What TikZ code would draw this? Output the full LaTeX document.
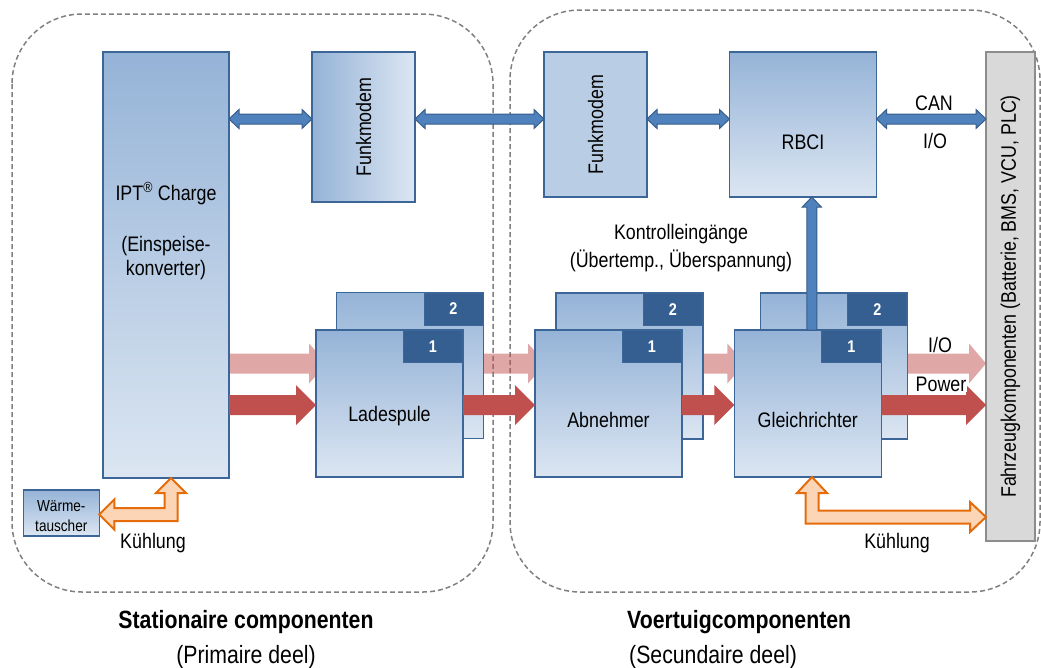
\documentclass[tikz,border=0pt]{standalone}
\usepackage{fontspec}
\setmainfont{Liberation Sans}[FakeStretch=0.85]
\usetikzlibrary{calc}

\definecolor{boxtop}{HTML}{95B3D7}
\definecolor{boxbot}{HTML}{DCE6F2}
\definecolor{boxline}{HTML}{3C6698}
\definecolor{tabblue}{HTML}{365F91}
\definecolor{fmflat}{HTML}{B9CDE5}
\definecolor{busfill}{HTML}{4F81BD}
\definecolor{busline}{HTML}{385D8A}
\definecolor{powred}{HTML}{C0504D}
\definecolor{coolfill}{HTML}{FBD5B5}
\definecolor{coolline}{HTML}{E46C0A}
\definecolor{fzkfill}{HTML}{D9D9D9}
\definecolor{fzkline}{HTML}{8C8C8C}
\definecolor{dashgray}{HTML}{808080}

\pgfdeclarelayer{frame}
\pgfdeclarelayer{under}
\pgfsetlayers{frame,under,main}

% horizontal block arrow with two heads: #2 left tip, #3 right tip (height of #2)
% #4 half shaft, #5 half head, #6 head length
\newcommand\hdoublearrow[6]{%
  \path[#1] let \p1=(#2), \p2=(#3) in
    (\x1,\y1) -- ({\x1+#6},{\y1+#5}) -- ({\x1+#6},{\y1+#4})
    -- ({\x2-#6},{\y1+#4}) -- ({\x2-#6},{\y1+#5}) -- (\x2,\y1)
    -- ({\x2-#6},{\y1-#5}) -- ({\x2-#6},{\y1-#4})
    -- ({\x1+#6},{\y1-#4}) -- ({\x1+#6},{\y1-#5}) -- cycle;}

% horizontal block arrow pointing right: #2 tail, #3 tip (height of #2)
\newcommand\hsinglearrow[6]{%
  \path[#1] let \p1=(#2), \p2=(#3) in
    (\x1,{\y1+#4}) -- ({\x2-#6},{\y1+#4}) -- ({\x2-#6},{\y1+#5})
    -- (\x2,\y1) -- ({\x2-#6},{\y1-#5}) -- ({\x2-#6},{\y1-#4})
    -- (\x1,{\y1-#4}) -- cycle;}

% vertical block arrow pointing up: #2 tail, #3 tip (column of #2)
\newcommand\vsinglearrow[6]{%
  \path[#1] let \p1=(#2), \p2=(#3) in
    ({\x1-#4},\y1) -- ({\x1-#4},{\y2-#6}) -- ({\x1-#5},{\y2-#6})
    -- (\x1,\y2) -- ({\x1+#5},{\y2-#6}) -- ({\x1+#4},{\y2-#6})
    -- ({\x1+#4},\y1) -- cycle;}

% elbow block arrow: #2 upper tip, #3 side tip
\newcommand\elbowarrow[6]{%
  \path[#1] let \p1=(#2), \p2=(#3), \n1={sign(\x2-\x1)} in
    (\x1,\y1) -- ({\x1-(\n1)*#5},{\y1-#6}) -- ({\x1-(\n1)*#4},{\y1-#6})
    -- ({\x1-(\n1)*#4},{\y2-#4}) -- ({\x2-(\n1)*#6},{\y2-#4})
    -- ({\x2-(\n1)*#6},{\y2-#5}) -- (\x2,\y2)
    -- ({\x2-(\n1)*#6},{\y2+#5}) -- ({\x2-(\n1)*#6},{\y2+#4})
    -- ({\x1+(\n1)*#4},{\y2+#4}) -- ({\x1+(\n1)*#4},{\y1-#6})
    -- ({\x1+(\n1)*#5},{\y1-#6}) -- cycle;}

\begin{document}
\begin{tikzpicture}[x=1pt,y=-1pt,
  txt/.style={font=\fontsize{21}{24}\selectfont, inner sep=0pt, align=center},
  title/.style={font=\bfseries\fontsize{25}{28}\selectfont, inner sep=0pt},
  subtitle/.style={font=\fontsize{25}{28}\selectfont, inner sep=0pt},
  group/.style={draw=dashgray, line width=1.5pt, dash pattern=on 5pt off 3pt, rounded corners=70pt},
  blockbase/.style={rectangle, draw=boxline, line width=1.5pt, inner sep=0pt, outer sep=0pt},
  bluebox/.style={blockbase, top color=boxtop, bottom color=boxbot},
  unitbox/.style={bluebox, minimum width=147pt, minimum height=147pt},
  tabbox/.style={rectangle, fill=tabblue, draw=boxline, line width=1pt, inner sep=0pt,
    minimum width=59pt, minimum height=32pt, anchor=north east, text=white,
    font=\bfseries\fontsize{17}{18}\selectfont},
  iopath/.style={fill=powred, fill opacity=0.5},
  powpath/.style={fill=powred},
  buspath/.style={fill=busfill, draw=busline, line width=1pt, line join=miter},
  coolpath/.style={fill=coolfill, draw=coolline, line width=2pt, line join=miter},
]
\useasboundingbox (0,0) rectangle (1041,667);

% signal levels
\coordinate (bus) at (0,119);
\coordinate (io) at (0,363.5);
\coordinate (pow) at (0,405);

% dashed groups
\begin{pgfonlayer}{frame}
  \draw[group] (12,14) rectangle (493,592);
  \draw[group] (510,10) rectangle (1040,592);
\end{pgfonlayer}

% stationary side
\node[bluebox, minimum width=126pt, minimum height=426pt,
  label={[txt, yshift=34pt]center:{IPT\textsuperscript{®} Charge\\[27pt](Einspeise-\\konverter)}}]
  (ipt) at (166,265) {};
\node[blockbase, left color=boxtop, right color=boxbot, minimum width=103pt, minimum height=150pt,
  label={[txt, rotate=90]center:Funkmodem}] (fm1) at (363.5,127) {};
\node[bluebox, line width=1.5pt, minimum width=76pt, minimum height=46pt,
  label={[font=\fontsize{16}{20}\selectfont, align=center, inner sep=0pt, yshift=-3pt]center:{Wärme-\\tauscher}}]
  (wt) at (61.3,513) {};

% vehicle side
\node[blockbase, fill=fmflat, minimum width=103pt, minimum height=145pt,
  label={[txt, rotate=90]center:Funkmodem}] (fm2) at (595.5,124.5) {};
\node[bluebox, minimum width=147pt, minimum height=145pt,
  label={[txt, anchor=base, yshift=-17.5pt]center:RBCI}] (rbci) at (803,124.5) {};
\node[rectangle, fill=fzkfill, draw=fzkline, line width=1.5pt, inner sep=0pt, outer sep=0pt,
  minimum width=49pt, minimum height=489pt,
  label={[txt, rotate=90]center:{Fahrzeugkomponenten (Batterie, BMS, VCU, PLC)}}]
  (fzk) at (1010.5,296.5) {};

% double units (2 behind 1)
\node[unitbox, minimum height=146pt] (lad2) at (410,365.5) {};
\node[tabbox] (lad2n) at (lad2.north east) {2};
\node[unitbox, label={[txt, anchor=base, yshift=-12.2pt]center:Ladespule}] (lad1) at (389.5,403.5) {};
\node[tabbox] (lad1n) at (lad1.north east) {1};

\node[unitbox, minimum height=146pt] (abn2) at (629.5,366) {};
\node[tabbox] (abn2n) at (abn2.north east) {2};
\node[unitbox, label={[txt, anchor=base, yshift=-16.5pt]center:Abnehmer}] (abn1) at (608.5,403.5) {};
\node[tabbox] (abn1n) at (abn1.north east) {1};

\node[unitbox, minimum height=146pt] (gl2) at (833.8,366) {};
\node[tabbox] (gl2n) at (gl2.north east) {2};
\node[unitbox, label={[txt, anchor=base, yshift=-16.5pt]center:Gleichrichter}] (gl1) at (807.8,403.5) {};
\node[tabbox] (gl1n) at (gl1.north east) {1};

% I/O path, running behind the units
\begin{pgfonlayer}{under}
  \hsinglearrow{iopath}{ipt.east |- io}{$(lad1.west)+(11,0)$}{10pt}{20pt}{18pt}
  \hsinglearrow{iopath}{lad2.east |- io}{$(abn1.west)+(11,0)$}{10pt}{20pt}{18pt}
  \hsinglearrow{iopath}{abn2.east |- io}{$(gl1.west)+(11,0)$}{10pt}{20pt}{18pt}
\end{pgfonlayer}
\hsinglearrow{iopath}{gl2.east |- io}{fzk.west}{10pt}{20pt}{17pt}

% power path
\hsinglearrow{powpath}{ipt.east |- pow}{lad1.west}{10pt}{20pt}{20pt}
\hsinglearrow{powpath}{lad1.east |- pow}{abn1.west}{10pt}{20pt}{20pt}
\hsinglearrow{powpath}{abn1.east |- pow}{gl1.west}{10pt}{20pt}{20pt}
\hsinglearrow{powpath}{gl1.east |- pow}{fzk.west}{10pt}{20pt}{20pt}

% communication
\hdoublearrow{buspath}{ipt.east |- bus}{fm1.west}{5pt}{9.5pt}{10pt}
\hdoublearrow{buspath}{fm1.east |- bus}{fm2.west}{5pt}{9.5pt}{10pt}
\hdoublearrow{buspath}{fm2.east |- bus}{rbci.west}{5pt}{9.5pt}{10pt}
\hdoublearrow{buspath}{rbci.east |- bus}{fzk.west}{5pt}{9.5pt}{10pt}
\coordinate (ctl) at ($(gl1.north)+(4,0)$);
\vsinglearrow{buspath}{ctl}{rbci.south}{5pt}{9.5pt}{10pt}

% cooling
\coordinate (coolL) at (171,514.5);
\elbowarrow{coolpath}{coolL |- ipt.south}{wt.east |- coolL}{6.5pt}{15pt}{15pt}
\coordinate (coolR) at (812,517);
\elbowarrow{coolpath}{coolR |- gl1.south}{fzk.west |- coolR}{6.5pt}{15pt}{16pt}

% texts
\node[txt, anchor=base] (can) at (934,110) {CAN};
\node[txt, anchor=base] (busio) at (935,148) {I/O};
\node[txt] (ctltext) at (681,248.5) {Kontrolleingänge\\[4pt](Übertemp., Überspannung)};
\node[txt, anchor=base] (iotext) at (940,352.7) {I/O};
\node[txt, anchor=base, fill=white, inner sep=1pt] (powtext) at (941,391) {Power};
\node[txt, anchor=base] (coolLtext) at (153,548) {Kühlung};
\node[txt, anchor=base] (coolRtext) at (897,548) {Kühlung};
\node[title, anchor=base] (stat) at (246,628) {Stationaire componenten};
\node[subtitle, anchor=base] (statsub) at (246,663) {(Primaire deel)};
\node[title, anchor=base west] (veh) at (627,628) {Voertuigcomponenten};
\node[subtitle, anchor=base west] (vehsub) at (629,663) {(Secundaire deel)};
\end{tikzpicture}
\end{document}
